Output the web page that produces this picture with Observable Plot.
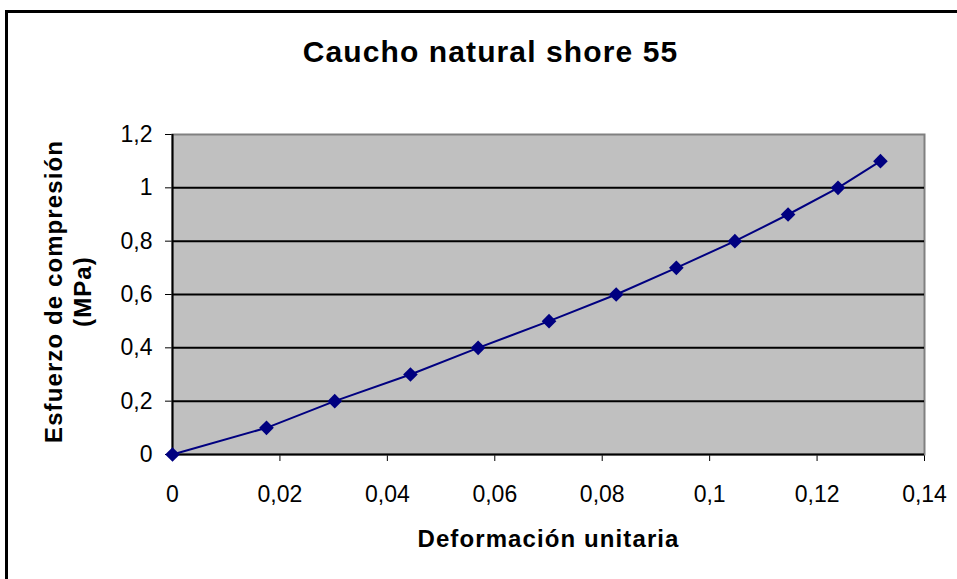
<!DOCTYPE html>
<html><head><meta charset="utf-8">
<script src="https://cdn.jsdelivr.net/npm/d3@7"></script>
<script src="https://cdn.jsdelivr.net/npm/@observablehq/plot@0.6"></script>
<style>
html,body{margin:0;padding:0;background:#fff;overflow:hidden;}
#wrap{position:relative;width:957px;height:579px;overflow:hidden;background:#fff;}
#chart{position:absolute;left:0;top:0;}
#frame{position:absolute;left:5px;top:10px;width:1100px;height:800px;border:3px solid #000;box-sizing:border-box;pointer-events:none;}
svg g[aria-label="text"] text{letter-spacing:1.1px;}
</style></head><body>
<div id="wrap"><div id="chart"></div><div id="frame"></div></div>
<script>
const strain = [0, 0.0175, 0.0302, 0.0443, 0.0569, 0.0701, 0.0826, 0.0938, 0.1047, 0.1146, 0.1239, 0.1318];
const stress = [0, 0.1, 0.2, 0.3, 0.4, 0.5, 0.6, 0.7, 0.8, 0.9, 1.0, 1.1];
const xTicks = [0, 0.02, 0.04, 0.06, 0.08, 0.1, 0.12, 0.14];
const yTicks = [0, 0.2, 0.4, 0.6, 0.8, 1, 1.2];
const gridY = [0.2, 0.4, 0.6, 0.8, 1];
const title = "Caucho natural shore 55";
const xLabel = "Deformación unitaria";
const yLabel = "Esfuerzo de compresión\n(MPa)";

const data = strain.map((x, i) => ({x, y: stress[i]}));
const fmt = d => String(+d.toFixed(2)).replace(".", ",");

const plot = Plot.plot({
  width: 957, height: 579,
  marginLeft: 172, marginRight: 33, marginTop: 134, marginBottom: 125,
  style: {fontFamily: '"Liberation Sans", Arial, sans-serif', fontSize: "23px", color: "#000", background: "transparent", overflow: "visible"},
  x: {domain: [0, 0.14], ticks: xTicks, tickFormat: fmt, tickSize: 7, tickPadding: 24, label: null},
  y: {domain: [0, 1.2], ticks: yTicks, tickFormat: fmt, tickSize: 7, tickPadding: 13, label: null},
  marks: [
    Plot.frame({fill: "#c0c0c0", stroke: "#808080", strokeWidth: 2}),
    Plot.ruleY(gridY, {stroke: "#000", strokeWidth: 2}),
    Plot.ruleX([0], {stroke: "#000", strokeWidth: 2}),
    Plot.ruleY([0], {stroke: "#000", strokeWidth: 2}),
    Plot.line(data, {x: "x", y: "y", stroke: "#000080", strokeWidth: 2}),
    Plot.dot(data, {x: "x", y: "y", symbol: "diamond2", r: 6.6, fill: "#000080", stroke: "none"}),
    Plot.text([title], {frameAnchor: "top", textAnchor: "middle", lineAnchor: "middle", dx: -58, dy: -82, text: d => d, fontSize: 30, fontWeight: "bold"}),
    Plot.text([xLabel], {frameAnchor: "bottom", textAnchor: "middle", lineAnchor: "middle", dy: 85, text: d => d, fontSize: 24, fontWeight: "bold"}),
    Plot.text([yLabel], {frameAnchor: "left", textAnchor: "middle", lineAnchor: "middle", dx: -105, dy: -3, text: d => d, fontSize: 24, fontWeight: "bold", rotate: -90, lineHeight: 1.2})
  ]
});
document.getElementById("chart").appendChild(plot);
</script>
</body></html>
